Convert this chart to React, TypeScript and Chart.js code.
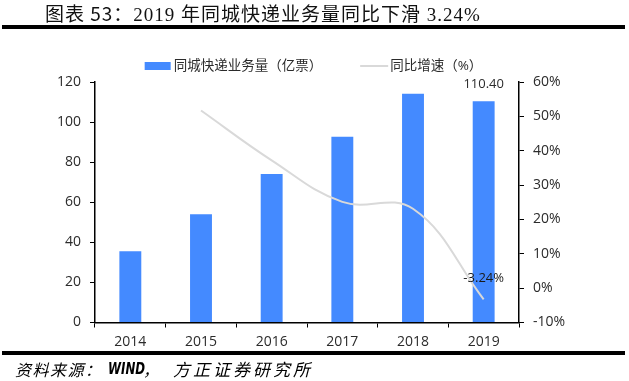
import React, { useEffect, useRef } from 'react';
import { Chart, registerables } from 'chart.js';
Chart.register(...registerables);

const titlePrefix = '图表 53：';
const titleText = '2019 年同城快递业务量同比下滑 3.24%';
const sourceLead = '资料来源：';
const sourceWind = 'WIND';
const sourceComma = '，';
const sourceOrg = '方正证券研究所';
const categories = ['2014', '2015', '2016', '2017', '2018', '2019'];
const volumeLabel = '同城快递业务量（亿票）';
const growthLabel = '同比增速（%）';
const volume = [35.6, 54.0, 74.1, 92.7, 114.1, 110.4];
const growth: (number | null)[] = [null, 51.7, 37.2, 25.1, 23.1, -3.24];
const leftMin = 0, leftMax = 120, leftStep = 20;
const rightMin = -10, rightMax = 60, rightStep = 10;

const BAR_COLOR = '#448AFF';
const LINE_COLOR = '#D9D9D9';
const FONT = "'Open Sans', 'Noto Sans CJK SC', sans-serif";
const TEXT = '#2b2b2b';

const legendPlugin = {
  id: 'customLegend',
  afterDraw(chart: any) {
    const ctx = chart.ctx;
    ctx.save();
    ctx.font = `13.5px ${FONT}`;
    ctx.textBaseline = 'middle';
    const y = 66;
    const w1 = ctx.measureText(volumeLabel).width;
    const w2 = ctx.measureText(growthLabel).width;
    const total = 26 + 3 + w1 + 38 + 28 + 2 + w2;
    let x = chart.width / 2 - total / 2 - 1;
    ctx.fillStyle = BAR_COLOR;
    ctx.fillRect(x, y - 4, 26, 8);
    x += 29;
    ctx.fillStyle = TEXT;
    ctx.fillText(volumeLabel, x, y);
    x += w1 + 38;
    ctx.strokeStyle = LINE_COLOR;
    ctx.lineWidth = 2;
    ctx.beginPath();
    ctx.moveTo(x, y);
    ctx.lineTo(x + 28, y);
    ctx.stroke();
    x += 30;
    ctx.fillText(growthLabel, x, y);
    ctx.restore();
  },
};

const labelPlugin = {
  id: 'lastLabels',
  afterDatasetsDraw(chart: any) {
    const ctx = chart.ctx;
    ctx.save();
    ctx.font = `13px ${FONT}`;
    ctx.textAlign = 'center';
    ctx.textBaseline = 'middle';
    const last = categories.length - 1;
    const bar = chart.getDatasetMeta(0).data[last];
    ctx.fillStyle = TEXT;
    ctx.fillText(volume[last].toFixed(2), bar.x, bar.y - 17);
    const pt = chart.getDatasetMeta(1).data[last];
    const g = growth[last] as number;
    ctx.fillStyle = '#1a1a1a';
    ctx.fillText(g.toFixed(2) + '%', pt.x, pt.y - 21);
    ctx.restore();
  },
};

export default function App() {
  const ref = useRef<HTMLCanvasElement>(null);
  useEffect(() => {
    if (!ref.current) return;
    const chart = new Chart(ref.current, {
      type: 'bar',
      data: {
        labels: categories,
        datasets: [
          {
            type: 'bar',
            label: volumeLabel,
            data: volume,
            backgroundColor: BAR_COLOR,
            yAxisID: 'y',
            barPercentage: 0.31,
            categoryPercentage: 1,
            order: 1,
          },
          {
            type: 'line',
            label: growthLabel,
            data: growth,
            borderColor: LINE_COLOR,
            borderWidth: 2,
            pointRadius: 0,
            tension: 0.4,
            yAxisID: 'y1',
            order: 0,
          } as any,
        ],
      },
      options: {
        responsive: false,
        animation: false,
        layout: { padding: { top: 82, left: 0, right: 0, bottom: 0 } },
        plugins: { legend: { display: false }, tooltip: { enabled: false }, title: { display: false } },
        scales: {
          x: {
            offset: true,
            grid: { display: true, drawOnChartArea: false, drawTicks: true, tickLength: 5, color: '#000', offset: true },
            border: { display: true, color: '#000', width: 1.5 },
            ticks: { color: TEXT, font: { family: FONT, size: 14 }, padding: 6 },
            afterFit: (s: any) => { s.height = 58.5; },
          },
          y: {
            position: 'left',
            min: leftMin,
            max: leftMax,
            ticks: { stepSize: leftStep, color: TEXT, font: { family: FONT, size: 14 }, padding: 9 },
            grid: { display: true, drawOnChartArea: false, drawTicks: true, tickLength: 5, color: '#000' },
            border: { display: true, color: '#000', width: 1.5 },
            afterFit: (s: any) => { s.width = 95; },
          },
          y1: {
            position: 'right',
            min: rightMin,
            max: rightMax,
            ticks: { stepSize: rightStep, color: TEXT, font: { family: FONT, size: 14 }, padding: 9, callback: (v: any) => v + '%' },
            grid: { display: true, drawOnChartArea: false, drawTicks: true, tickLength: 5, color: '#000' },
            border: { display: true, color: '#000', width: 1.5 },
            afterFit: (s: any) => { s.width = 110; },
          },
        },
      },
      plugins: [legendPlugin, labelPlugin],
    });
    return () => chart.destroy();
  }, []);

  const srcBase: React.CSSProperties = {
    position: 'absolute', top: 357, fontFamily: "'Noto Sans CJK SC', sans-serif", fontStyle: 'italic',
    lineHeight: '24px', color: '#000', whiteSpace: 'nowrap',
  };

  return (
    <div style={{ position: 'fixed', left: 0, top: 0, width: 629, height: 381, background: '#fff', overflow: 'hidden' }}>
      <canvas ref={ref} width={629} height={381} style={{ position: 'absolute', left: 0, top: 0 }} />
      <div style={{ position: 'absolute', left: 45, top: 1, fontSize: 19, letterSpacing: 1, lineHeight: '24px', color: '#111', whiteSpace: 'nowrap' }}>
        <span style={{ fontFamily: "'Noto Sans CJK SC', sans-serif" }}>{titlePrefix}</span>
        <span style={{ fontFamily: "'Liberation Serif', 'Noto Sans CJK SC', serif" }}>{titleText}</span>
      </div>
      <div style={{ position: 'absolute', left: 2, right: 4, top: 25, height: 4, background: '#000' }} />
      <div style={{ position: 'absolute', left: 2, right: 4, top: 351, height: 3.5, background: '#000' }} />
      <div style={{ ...srcBase, left: 15, fontSize: 16, letterSpacing: 1.5 }}>{sourceLead}</div>
      <div style={{ ...srcBase, left: 108, fontSize: 16, fontWeight: 'bold', transform: 'scaleX(0.82)', transformOrigin: 'left center', fontFamily: "'DejaVu Sans Condensed', 'Liberation Sans', sans-serif" }}>{sourceWind}</div>
      <div style={{ ...srcBase, left: 143, fontSize: 16 }}>{sourceComma}</div>
      <div style={{ ...srcBase, left: 173, fontSize: 17, letterSpacing: 3 }}>{sourceOrg}</div>
    </div>
  );
}
